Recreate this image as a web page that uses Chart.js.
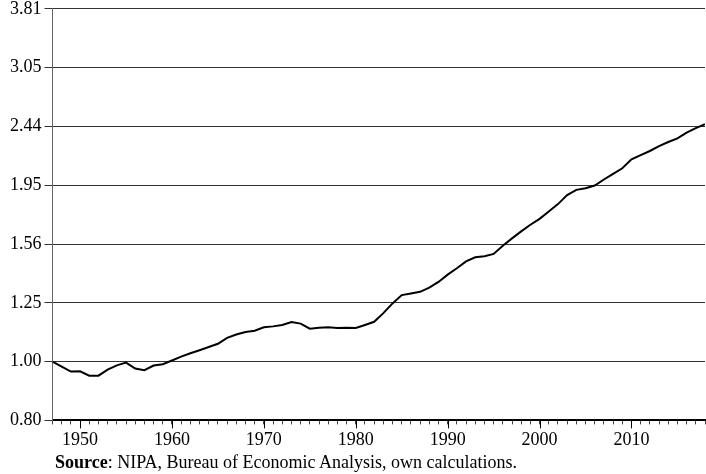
<!DOCTYPE html>
<html>
<head>
<meta charset="utf-8">
<script src="https://cdn.jsdelivr.net/npm/chart.js@4.4.1/dist/chart.umd.min.js"></script>
<style>
  html,body{margin:0;padding:0;background:#fff;}
  #wrap{position:relative;width:706px;height:474px;overflow:hidden;}
  #c{position:absolute;left:0;top:-5px;}
  #src{position:absolute;left:55px;top:452px;font-family:"Liberation Serif","Times New Roman",serif;font-size:18px;line-height:21px;color:#000;white-space:nowrap;}
</style>
</head>
<body>
<div id="wrap">
  <canvas id="c" width="710" height="461"></canvas>
  <div id="src"><b>Source</b>: NIPA, Bureau of Economic Analysis, own calculations.</div>
</div>
<script>
// years and index values (1947 = 1.00)
const years=[1947,1948,1949,1950,1951,1952,1953,1954,1955,1956,1957,1958,1959,
  1960,1961,1962,1963,1964,1965,1966,1967,1968,1969,
  1970,1971,1972,1973,1974,1975,1976,1977,1978,1979,
  1980,1981,1982,1983,1984,1985,1986,1987,1988,1989,
  1990,1991,1992,1993,1994,1995,1996,1997,1998,1999,
  2000,2001,2002,2003,2004,2005,2006,2007,2008,2009,
  2010,2011,2012,2013,2014,2015,2016,2017,2018];
const values=[1.000,0.981,0.963,0.964,0.948,0.948,0.970,0.986,0.996,0.974,0.968,0.985,0.990,
  1.004,1.019,1.032,1.044,1.057,1.070,1.094,1.108,1.119,1.124,
  1.139,1.143,1.149,1.162,1.155,1.133,1.137,1.139,1.136,1.137,
  1.136,1.149,1.163,1.202,1.247,1.287,1.295,1.303,1.324,1.353,
  1.391,1.425,1.463,1.486,1.492,1.505,1.552,1.596,1.639,1.681,
  1.719,1.768,1.818,1.881,1.919,1.931,1.951,1.996,2.039,2.083,
  2.155,2.190,2.224,2.266,2.301,2.333,2.384,2.426,2.463];
const yTicks=[0.8,1.0,1.25,1.5625,1.953125,2.44140625,3.0517578125,3.814697265625];
const yTickLabels=['0.80','1.00','1.25','1.56','1.95','2.44','3.05','3.81'];
const xMin=1947,xMax=2018;

const serif='"Liberation Serif","Times New Roman",serif';

// longer tick marks at the decades
const majorTicks={id:'majorTicks',afterDraw(chart){
  const sx=chart.scales.x,ctx=chart.ctx,y0=sx.top;
  ctx.save();ctx.strokeStyle='#000';ctx.lineWidth=1;ctx.beginPath();
  sx.ticks.forEach(t=>{if(t.value%10===0){const px=Math.round(sx.getPixelForValue(t.value))+0.5;ctx.moveTo(px,y0);ctx.lineTo(px,y0+8);}});
  ctx.stroke();ctx.restore();
}};

new Chart(document.getElementById('c'),{
  type:'line',
  data:{datasets:[{data:years.map((y,i)=>({x:y,y:values[i]})),borderColor:'#000',borderWidth:2,pointRadius:0,tension:0,fill:false}]},
  options:{
    responsive:false,animation:false,
    layout:{padding:{left:7,right:0,top:0,bottom:0}},
    plugins:{legend:{display:false},tooltip:{enabled:false}},
    scales:{
      x:{type:'linear',min:xMin,max:xMax,
        border:{display:true,color:'#000',width:2},
        grid:{drawOnChartArea:false,tickLength:4,color:'#444',tickWidth:1},
        ticks:{stepSize:1,autoSkip:false,maxRotation:0,padding:5,color:'#000',font:{family:serif,size:18},
          callback:v=>v%10===0?String(v):''}},
      y:{type:'logarithmic',min:yTicks[0],max:yTicks[yTicks.length-1],
        afterBuildTicks:s=>{s.ticks=yTicks.map(v=>({value:v}));},
        border:{display:true,color:'#666',width:1},
        grid:{color:'#333',lineWidth:1,tickLength:8},
        ticks:{padding:3,color:'#000',font:{family:serif,size:18},
          callback:(v,i)=>yTickLabels[i]}}
    }
  },
  plugins:[majorTicks]
});
</script>
</body>
</html>
